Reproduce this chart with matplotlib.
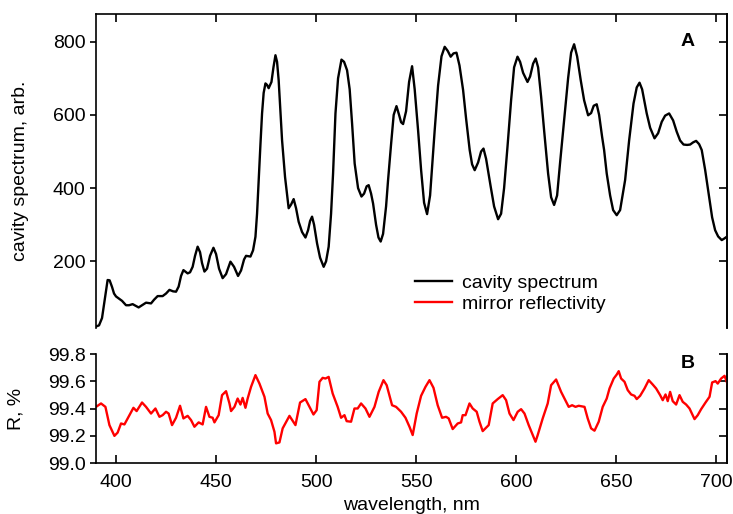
import matplotlib
matplotlib.use("Agg")
import matplotlib.pyplot as plt

plt.rcParams['font.family'] = ['Liberation Sans', 'DejaVu Sans']
plt.rcParams['font.size'] = 14

# cavity spectrum (panel A)
wl_cav = [390, 391.5, 393, 394.5, 395.8, 396.8, 398, 399, 400, 401.5, 403, 405, 406.5,
          408.3, 410, 411.3, 413, 415, 417.5, 419, 420.8, 423.3, 425, 426.7, 428.5,
          430, 431.3, 432.5, 433.7, 435.8, 437, 438.3, 439.5, 440.8, 442, 443, 444.2,
          445.5, 447, 448.7, 450, 451.5, 453.3, 455, 457.2, 459, 461, 462.5, 464, 465,
          467.2, 468.5, 469.7, 470.5, 471.3, 472.2, 473, 473.8, 474.7, 475.5, 476.3,
          477.7, 478.7, 479.7, 480.5, 481.3, 482.2, 483, 484.5, 486.3, 487.5, 488.8,
          490, 491.3, 493, 494.7, 496, 497, 498, 499, 500.5, 502, 503.8, 505, 506.3,
          507.5, 508.5, 509.7, 511, 512.7, 514, 515.5, 516.8, 518, 519.3, 521, 522.7,
          524, 525.3, 526.3, 527.5, 528.5, 530, 531.2, 532.3, 533.5, 535, 536, 537.5,
          538.8, 540.2, 541.5, 542.5, 543.5, 545, 546.5, 548, 549.3, 551, 552.5, 554,
          555.5, 557, 558.3, 559.3, 561, 562.7, 564.3, 565.8, 567.3, 568.7, 570.2,
          571.7, 573.5, 575, 576.8, 578, 579.3, 581, 582.5, 583.7, 585, 587.3, 589,
          591, 592.5, 594, 595.7, 597.5, 599, 600.7, 602, 603.5, 605.7, 607, 608.5,
          609.8, 611, 612.5, 614, 616, 617.5, 619, 620.5, 622, 624, 626, 627.5, 629,
          630.5, 632.3, 634, 636, 637.5, 638.8, 640.3, 641.5, 643, 644, 645.3, 647,
          648.5, 650.3, 652, 654.5, 656.5, 658.7, 660.3, 661.7, 663, 665.3, 667,
          669.2, 671, 672.8, 674.5, 676.5, 678.5, 680.3, 682, 683.7, 685.5, 687,
          688.5, 690, 691.5, 692.8, 694.5, 696.2, 698, 699.5, 701, 702.8, 704, 705.3]
cav = [22, 25, 45, 100, 149, 148, 130, 112, 104, 98, 92, 80, 80,
       83, 78, 74, 80, 87, 85, 95, 105, 105, 112, 122, 118,
       117, 131, 160, 176, 167, 170, 185, 215, 240, 225, 195, 172,
       180, 215, 237, 220, 180, 154, 165, 199, 185, 160, 175, 205, 215,
       213, 230, 267, 330, 422, 520, 604, 660, 686, 682, 673,
       690, 730, 763, 745, 695, 610, 531, 430, 345, 355, 370,
       345, 308, 280, 265, 285, 310, 322, 300, 249, 210, 185, 200, 240,
       330, 440, 604, 700, 751, 745, 722, 670, 577, 467, 400, 377,
       385, 405, 408, 385, 358, 300, 265, 254, 275, 350, 422, 520,
       600, 624, 600, 580, 575, 610, 690, 733, 670, 558, 450, 360,
       329, 380, 480, 558, 680, 760, 786, 775, 759, 768, 770,
       735, 668, 590, 504, 465, 449, 470, 500, 508, 480, 404, 350,
       315, 330, 400, 513, 640, 730, 759, 745, 715, 690, 705, 740,
       754, 730, 650, 558, 440, 375, 354, 380, 470, 586, 700, 770, 793,
       760, 695, 640, 599, 605, 625, 629, 600, 540, 504, 440, 380,
       340, 326, 340, 422, 530, 631, 675, 688, 670, 604, 565,
       536, 550, 581, 598, 604, 585, 554, 530, 519, 518, 519,
       525, 529, 520, 504, 450, 386, 320, 285, 268, 258, 262, 267]

# mirror reflectivity (panel B)
wl_refl = [390, 392.5, 394.7, 396.7, 399.2, 400.8, 402.5, 404.2, 406.7, 408.7,
           410.3, 413, 415, 417.5, 419.7, 421.7, 423.3, 425, 426.3, 428, 430,
           432, 433.7, 435.8, 437.5, 439.2, 441.3, 443.3, 445, 446.7, 448.3,
           449.2, 451.3, 453, 455, 456.7, 457.5, 459.2, 460.8, 462.2, 463.3,
           464.7, 465.8, 467.5, 469.7, 471.7, 474.2, 475.8, 477.5, 479.2, 480,
           481.7, 483.3, 486.7, 489.7, 492, 494.7, 496.7, 498.7, 500.3, 501.7,
           503.3, 504.7, 506.3, 508.3, 510.8, 512.5, 514.2, 515.3, 517.5, 519.2,
           520.8, 522.5, 524.7, 526.7, 529.2, 531.3, 533.7, 535.3, 538, 540,
           542.5, 544.7, 546.7, 548.3, 550.3, 552.5, 554.7, 556.7, 558.7, 560.8,
           563, 565, 566.3, 568.3, 570.8, 572.5, 573.3, 574.7, 576.7, 578.3,
           580.3, 581.7, 583.3, 586.3, 588.3, 590.8, 593.3, 595, 596.7, 598.7,
           600.8, 602.5, 604.2, 606.3, 608.3, 609.7, 610.8, 613.3, 615.8, 617.5,
           620, 622.5, 625, 626.3, 628, 629.7, 631.3, 634.2, 635.8, 637.5, 639.2,
           641.3, 643.3, 645.3, 646.7, 648.8, 650.3, 651.3, 652.5, 654.2, 655.8,
           657.5, 659.2, 660.3, 662, 664.2, 666.3, 668.3, 670, 672, 673.3, 674.7,
           675.8, 677, 678.3, 680, 681.7, 683.3, 685, 686.7, 689.2, 690.8, 692.5,
           694.7, 696.7, 698, 699.7, 700.8, 702.5, 704.2, 705.8]
refl = [99.413, 99.438, 99.413, 99.279, 99.200, 99.224, 99.291, 99.284, 99.352, 99.406,
        99.382, 99.445, 99.413, 99.364, 99.401, 99.340, 99.352, 99.377, 99.364, 99.279, 99.333,
        99.421, 99.328, 99.347, 99.316, 99.267, 99.299, 99.284, 99.413, 99.340, 99.333,
        99.299, 99.352, 99.499, 99.528, 99.438, 99.382, 99.413, 99.474, 99.430, 99.479,
        99.406, 99.474, 99.560, 99.646, 99.584, 99.487, 99.364, 99.316, 99.230, 99.145,
        99.152, 99.255, 99.347, 99.279, 99.445, 99.470, 99.413, 99.357, 99.389, 99.597,
        99.626, 99.621, 99.633, 99.511, 99.413, 99.333, 99.352, 99.308, 99.304, 99.401,
        99.401, 99.438, 99.401, 99.340, 99.413, 99.523, 99.609, 99.572, 99.425, 99.413,
        99.377, 99.333, 99.267, 99.206, 99.364, 99.494, 99.560, 99.609, 99.553, 99.425,
        99.333, 99.340, 99.328, 99.250, 99.291, 99.299, 99.352, 99.352, 99.438, 99.401,
        99.377, 99.304, 99.235, 99.279, 99.438, 99.470, 99.499, 99.462, 99.364, 99.316,
        99.377, 99.396, 99.364, 99.279, 99.206, 99.157, 99.206, 99.328, 99.438, 99.572,
        99.614, 99.523, 99.450, 99.413, 99.425, 99.413, 99.421, 99.413, 99.328, 99.255, 99.238,
        99.304, 99.413, 99.474, 99.548, 99.621, 99.650, 99.675, 99.621, 99.597, 99.536,
        99.504, 99.494, 99.470, 99.494, 99.548, 99.609, 99.577, 99.548, 99.499, 99.462, 99.504,
        99.455, 99.523, 99.455, 99.430, 99.499, 99.450, 99.430, 99.401, 99.323, 99.352, 99.396,
        99.445, 99.487, 99.592, 99.602, 99.584, 99.621, 99.641, 99.577]

xticks = [400, 450, 500, 550, 600, 650, 700]


def main():
    fig = plt.figure(figsize=(7.33, 5.14), dpi=100)
    axA = fig.add_axes([0.131, 0.362, 0.861, 0.611])
    axB = fig.add_axes([0.131, 0.099, 0.861, 0.212])

    # panel A
    axA.plot(wl_cav, cav, color='black', lw=1.7, label='cavity spectrum')
    axA.plot([], [], color='red', lw=1.7, label='mirror reflectivity')
    axA.set_xlim(390, 705.5)
    axA.set_ylim(18, 876)
    axA.set_xticks(xticks)
    axA.set_yticks([200, 400, 600, 800])
    axA.spines['bottom'].set_visible(False)
    axA.tick_params(axis='x', which='both', bottom=False, labelbottom=False,
                    top=True, direction='in', length=6, width=1.2)
    axA.tick_params(axis='y', left=True, right=False, direction='out', length=4, width=1.2)
    axA2 = axA.secondary_yaxis('right')
    axA2.set_yticks([200, 400, 600, 800])
    axA2.tick_params(direction='in', length=6, width=1.2, labelright=False)
    axA2.spines['right'].set_linewidth(1.2)
    for s in ['left', 'top', 'right']:
        axA.spines[s].set_linewidth(1.2)
    axA.set_ylabel('cavity spectrum, arb.')
    axA.yaxis.set_label_coords(-0.106, 0.5)
    axA.text(0.938, 0.911, 'A', transform=axA.transAxes, fontweight='bold',
             ha='center', va='center')
    axA.legend(loc='upper left', bbox_to_anchor=(0.5055, 0.17), frameon=False,
               borderpad=0, borderaxespad=0, handlelength=1.9, handletextpad=0.5,
               labelspacing=0.15)

    # panel B
    axB.plot(wl_refl, refl, color='red', lw=1.7)
    axB.set_xlim(390, 705.5)
    axB.set_ylim(99.0, 99.8)
    axB.set_xticks(xticks)
    axB.set_yticks([99.0, 99.2, 99.4, 99.6, 99.8])
    axB.set_yticklabels(['99.0', '99.2', '99.4', '99.6', '99.8'])
    axB.spines['top'].set_visible(False)
    for s in ['left', 'bottom', 'right']:
        axB.spines[s].set_linewidth(1.2)
    axB.tick_params(axis='x', direction='in', length=6, width=1.2, pad=8)
    axB.tick_params(axis='y', direction='out', length=4, width=1.2)
    axB2 = axB.secondary_yaxis('right')
    axB2.set_yticks([99.2, 99.4, 99.6, 99.8])
    axB2.tick_params(direction='in', length=6, width=1.2, labelright=False)
    axB2.spines['right'].set_linewidth(1.2)
    axB.set_ylabel('R, %')
    axB.yaxis.set_label_coords(-0.113, 0.5)
    axB.set_xlabel('wavelength, nm')
    axB.xaxis.set_label_coords(0.5, -0.31)
    axB.text(0.938, 0.917, 'B', transform=axB.transAxes, fontweight='bold',
             ha='center', va='center')

    fig.savefig('out.png', dpi=100)


if __name__ == "__main__":
    main()
